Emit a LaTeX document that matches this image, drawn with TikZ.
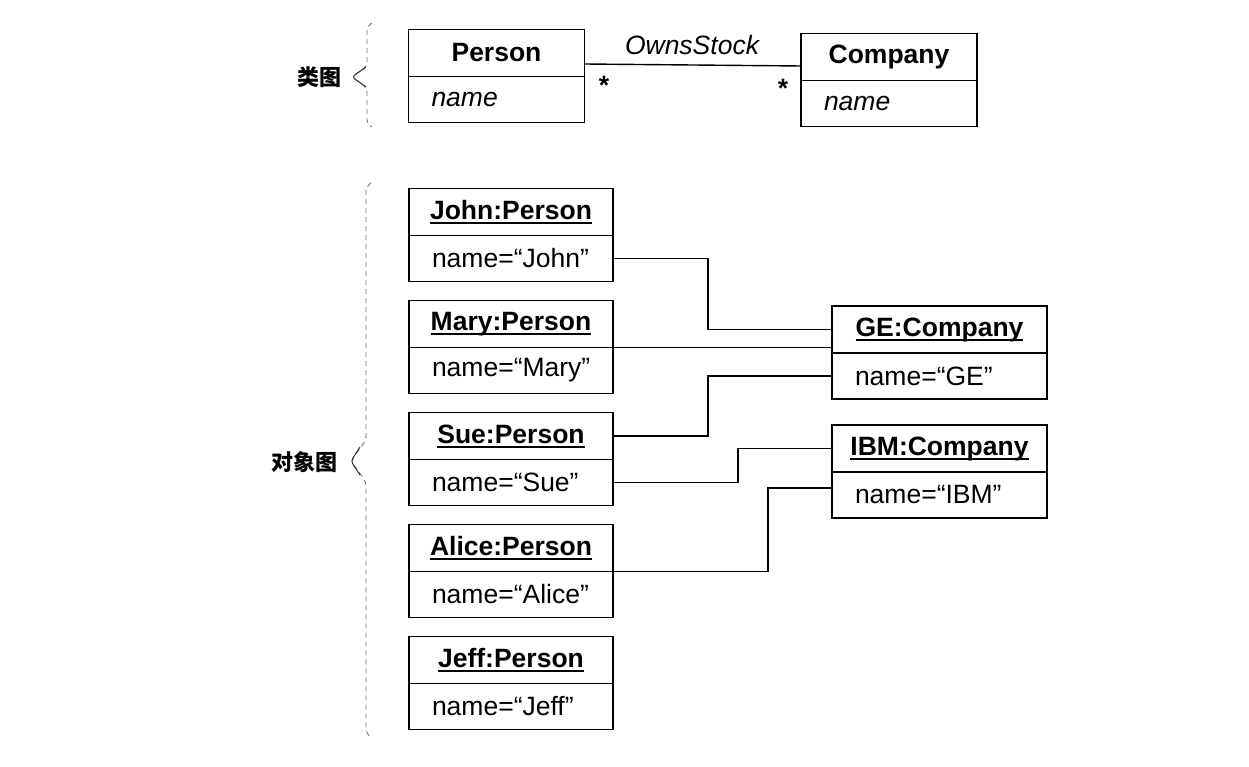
\documentclass[tikz,border=0pt]{standalone}
\usepackage{fontspec}
\setmainfont{Liberation Sans}
\newfontfamily\cjk{Noto Sans CJK SC}

% underlined object name with a fixed rule below the baseline
\newcommand\objname[1]{\setbox0\hbox{#1}\rlap{\rule[-4.5pt]{\wd0}{1.8pt}}\box0}

\tikzset{
  box/.style={draw, line width=1.5pt, outer sep=0pt, inner sep=0pt},
  hdr/.style={box, font=\bfseries, minimum height=47pt},
  attr/.style={box, align=left, inner xsep=23pt, minimum height=46pt},
  clshdr/.style={hdr, minimum width=176pt},
  clsattr/.style={attr, font=\itshape, text width=130pt},
  objhdr/.style={hdr, minimum width=204pt},
  objattr/.style={attr, text width=158pt},
  cohdr/.style={hdr, minimum width=215pt},
  coattr/.style={attr, text width=169pt},
  link/.style={line width=1.4pt},
  mult/.style={anchor=base, font=\bfseries},
  grp/.style={black!55, line width=0.9pt, dash pattern=on 5pt off 4pt, rounded corners=4pt},
  grptip/.style={black!80, line width=1pt, rounded corners=3pt},
  grplabel/.style={font=\cjk\bfseries\fontsize{22}{26}\selectfont},
}

\begin{document}
\fontsize{26.5}{31}\selectfont
\begin{tikzpicture}[x=1pt, y=-1pt]
\useasboundingbox (0,0) rectangle (1249,767);

% class diagram
\node [clshdr] (personH) at (496.5,53) {Person};
\node [clsattr, anchor=north] (personA) at (personH.south) {name};
\node [clshdr] (companyH) at (889,57) {Company};
\node [clsattr, anchor=north] (companyA) at (companyH.south) {name};
\draw [link] ([yshift=-11pt]personH.east) -- ([yshift=-9pt]companyH.west);
\node (owns) at (692,45) {\itshape OwnsStock};
\node [mult] (starP) at (604,95) {*};
\node [mult] (starC) at (783,98) {*};

\node [grplabel] (clslabel) at (319,77) {类图};
\draw [grp] (372,23) -- (367,26) -- (367,66) -- (352,77) -- (367,88) -- (367,124) -- (372,127);
\draw [grptip] (366,67) -- (352,77) -- (366,87);

% object diagram
\node [objhdr] (johnH) at (511,212) {\objname{John:Person}};
\node [objattr, anchor=north] (johnA) at (johnH.south) {name=“John”};
\node [objhdr] (maryH) at (511,324) {\objname{Mary:Person}};
\node [objattr, anchor=north] (maryA) at (maryH.south) {name=“Mary”};
\node [objhdr] (sueH) at (511,436) {\objname{Sue:Person}};
\node [objattr, anchor=north] (sueA) at (sueH.south) {name=“Sue”};
\node [objhdr] (aliceH) at (511,548) {\objname{Alice:Person}};
\node [objattr, anchor=north] (aliceA) at (aliceH.south) {name=“Alice”};
\node [objhdr] (jeffH) at (511,660) {\objname{Jeff:Person}};
\node [objattr, anchor=north] (jeffA) at (jeffH.south) {name=“Jeff”};

\node [cohdr] (geH) at (939.5,329.5) {\objname{GE:Company}};
\node [coattr, anchor=north] (geA) at (geH.south) {name=“GE”};
\node [cohdr] (ibmH) at (939.5,448.5) {\objname{IBM:Company}};
\node [coattr, anchor=north] (ibmA) at (ibmH.south) {name=“IBM”};

\draw [link] (johnA.east) -- ++(95,0) |- (geH.west);
\draw [link] (maryH.south east) -- (maryH.south east -| geH.west);
\draw [link] (sueH.east) -- ++(95,0) |- (geA.west);
\draw [link] (sueA.east) -- ++(125,0) |- (ibmH.west);
\draw [link] (aliceH.south east) -- ++(155,0) |- ([yshift=7pt]ibmA.west);

\node [grplabel] (objlabel) at (304,462) {对象图};
\draw [grp] (371,183) -- (366,187) -- (366,440) -- (351,461) -- (366,482) -- (366,733) -- (371,737);
\draw [grptip] (360,447) -- (351,461) -- (360,475);
\end{tikzpicture}
\end{document}
